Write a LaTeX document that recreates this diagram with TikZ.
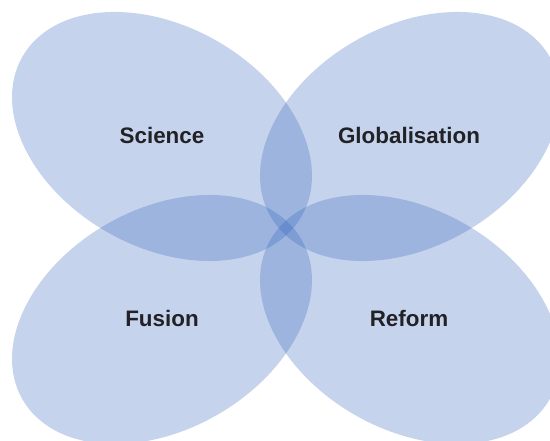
\documentclass[tikz,border=0pt]{standalone}
\usepackage{fontspec}
\setmainfont{Liberation Sans}
\definecolor{petalblue}{RGB}{48,98,187}
\definecolor{labeltext}{RGB}{34,34,38}
\begin{document}
\begin{tikzpicture}[x=1pt,y=1pt,
  petal/.style={fill=petalblue, fill opacity=0.28},
  petaltext/.style={font=\bfseries\fontsize{22.4}{26}\selectfont, text=labeltext, inner sep=0pt}]
  \useasboundingbox (0,0) rectangle (550,441);
  \clip (0,0) rectangle (550,441);
  % four overlapping petals around the common centre (286,213)
  \fill[petal, rotate around={-29.7:(162,304.5)}] (162,304.5) ellipse [x radius=160.8, y radius=110.2];
  \fill[petal, rotate around={29.7:(410,304.5)}]  (410,304.5) ellipse [x radius=160.8, y radius=110.2];
  \fill[petal, rotate around={29.7:(162,121.5)}]  (162,121.5) ellipse [x radius=160.8, y radius=110.2];
  \fill[petal, rotate around={-29.7:(410,121.5)}] (410,121.5) ellipse [x radius=160.8, y radius=110.2];
  % petal titles
  \node[petaltext] (science) at (162,305.5) {Science};
  \node[petaltext] (global)  at (409,305.5) {Globalisation};
  \node[petaltext] (fusion)  at (162,122.5) {Fusion};
  \node[petaltext] (reform)  at (409,122.5) {Reform};
\end{tikzpicture}
\end{document}
